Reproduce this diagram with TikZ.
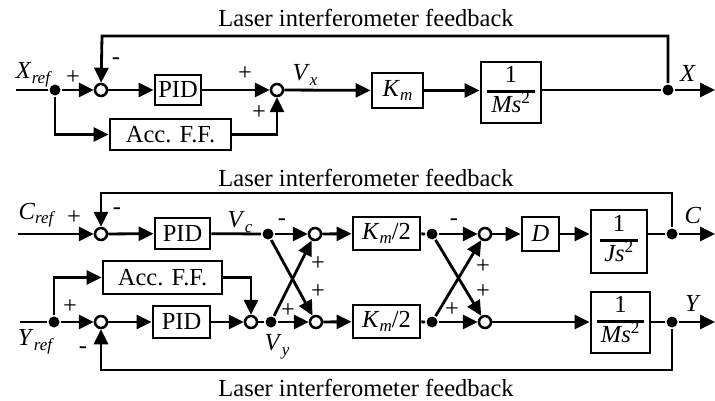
\documentclass[tikz,border=0pt]{standalone}
\usepackage{fontspec}
\setmainfont{Liberation Serif}
\usetikzlibrary{arrows.meta,calc}
\newcommand{\sbs}[1]{\raisebox{-0.4ex}{\fontsize{17}{17}\selectfont\itshape #1}}
\newcommand{\frc}[2]{{\setlength{\arrayrulewidth}{2.2pt}\begin{tabular}{@{\,}c@{\,}}#1\\\hline #2\end{tabular}}}
\tikzset{
  every node/.style={font=\fontsize{24.5}{26}\selectfont},
  blk/.style={draw, line width=2.9pt, fill=white, inner sep=2pt},
  sumc/.style={circle, draw, line width=2.5pt, fill=white, minimum size=12pt, inner sep=0pt},
  dotn/.style={circle, fill=black, minimum size=11pt, inner sep=0pt},
  arr/.style={-{Triangle[length=15pt,width=14pt]}},
  lbl/.style={inner sep=0pt},
}
\begin{document}
\begin{tikzpicture}[x=1pt,y=-1pt,line width=2.8pt]
\useasboundingbox (0,0) rectangle (715,401);
% ---------- top diagram ----------
\coordinate (xin) at (16,90);
\coordinate (xout) at (715,90);
\coordinate (fbA) at (102,36);
\node[dotn] (dotA) at (55,90) {};
\node[sumc] (s1) at (101,90) {};
\node[blk, minimum width=46pt, minimum height=30pt] (pid1) at (178,90) {PID};
\node[sumc] (s2) at (277,90) {};
\node[blk, minimum width=121pt, minimum height=31pt] (acc1) at (170.5,134.5) {Acc. F.F.};
\node[blk, minimum width=51pt, minimum height=35pt] (km1) at (397.5,90.5) {\textit{K}\sbs{m}};
\node[blk, minimum width=60pt, minimum height=61pt, inner sep=0pt] (ms1) at (511,92.5) {\frc{1}{\textit{Ms}\textsuperscript{2}}};
\node[dotn] (dotX) at (668,90) {};

\draw (xin) -- (dotA);
\draw[arr] (dotA) -- (s1);
\draw[arr] (s1) -- (pid1);
\draw[arr] (pid1) -- (s2);
\draw[arr] (s2) -- (km1);
\draw[arr] (km1) -- (km1 -| ms1.west);
\draw (ms1.east |- dotX) -- (dotX);
\draw[arr] (dotX) -- (xout);
\draw[arr] (dotX) |- (fbA) -- (s1);
\draw[arr] (dotA) |- (acc1.west);
\draw[arr] (acc1.east) -| (s2.south);

\node[lbl] (t1) at (366,18) {Laser interferometer feedback};
\node[lbl] (lxr) at (33,75) {\textit{X}\sbs{ref}};
\node[lbl] (p1) at (73,78) {+};
\node[lbl] (m1) at (116,61) {-};
\node[lbl] (p2) at (245,74) {+};
\node[lbl] (p3) at (259,113) {+};
\node[lbl] (lvx) at (305,75) {\textit{V}\sbs{x}};
\node[lbl] (lx) at (688,73) {\textit{X}};

% ---------- bottom diagram ----------
\coordinate (cin) at (18,234);
\coordinate (cout) at (715,234);
\coordinate (yin) at (20,322);
\coordinate (yout) at (715,322);
\coordinate (fbC) at (101,193);
\coordinate (fbY) at (101,370);

\node[sumc] (s3) at (101,234) {};
\node[blk, minimum width=55pt, minimum height=31pt] (pid2) at (182.5,233.5) {PID};
\node[dotn] (dotC) at (268,234) {};
\node[sumc] (s4) at (315,234) {};
\node[blk, minimum width=67pt, minimum height=33pt] (km2) at (386.5,233.5) {\textit{K}\sbs{m}/2};
\node[dotn] (dotC2) at (432,234) {};
\node[sumc] (s5) at (485,234) {};
\node[blk, minimum width=37pt, minimum height=34pt] (dbox) at (540.5,234) {\textit{D}};
\node[blk, minimum width=56pt, minimum height=63pt, inner sep=0pt] (js) at (619,241.5) {\frc{1}{\textit{Js}\textsuperscript{2}}};
\node[dotn] (dotCo) at (672,234) {};

\node[dotn] (dotY0) at (54,322) {};
\node[sumc] (s6) at (101,322) {};
\node[blk, minimum width=119pt, minimum height=33pt] (acc2) at (162.5,277.5) {Acc. F.F.};
\node[blk, minimum width=57pt, minimum height=32pt] (pid3) at (181.5,322) {PID};
\node[sumc] (s7) at (251,322) {};
\node[dotn] (dotY) at (271,322) {};
\node[sumc] (s8) at (316,322) {};
\node[blk, minimum width=67pt, minimum height=33pt] (km3) at (386.5,321.5) {\textit{K}\sbs{m}/2};
\node[dotn] (dotY2) at (432,322) {};
\node[sumc] (s9) at (485,322) {};
\node[blk, minimum width=59pt, minimum height=61pt, inner sep=0pt] (ms2) at (620.5,322.5) {\frc{1}{\textit{Ms}\textsuperscript{2}}};
\node[dotn] (dotYo) at (672,322) {};

% C row
\draw[arr] (cin) -- (s3);
\draw[arr] (s3) -- (pid2);
\draw (pid2) -- (dotC);
\draw[arr] (dotC) -- (s4);
\draw[arr] (s4) -- (km2);
\draw (km2) -- (dotC2);
\draw[arr] (dotC2) -- (s5);
\draw[arr] (s5) -- (dbox);
\draw[arr] (dbox) -- (dbox -| js.west);
\draw (js.east |- dotCo) -- (dotCo);
\draw[arr] (dotCo) -- (cout);
\draw[arr] (dotCo) |- (fbC) -- (s3);
% Y row
\draw (yin) -- (dotY0);
\draw[arr] (dotY0) -- (s6);
\draw[arr] (s6) -- (pid3);
\draw[arr] (pid3) -- (s7);
\draw (s7) -- (dotY);
\draw[arr] (dotY) -- (s8);
\draw[arr] (s8) -- (km3);
\draw (km3) -- (dotY2);
\draw[arr] (dotY2) -- (s9);
\draw[arr] (s9) -- (s9 -| ms2.west);
\draw (ms2.east |- dotYo) -- (dotYo);
\draw[arr] (dotYo) -- (yout);
\draw[arr] (dotYo) |- (fbY) -- (s6);
\draw[arr] (dotY0) |- (acc2.west);
\draw[arr] (acc2.east) -| (s7.north);
% crosses
\draw[arr] (dotC) -- (s8);
\draw[arr] (dotY) -- (s4);
\draw[arr] (dotC2) -- (s9);
\draw[arr] (dotY2) -- (s5);

% labels
\node[lbl] (t2) at (366,178) {Laser interferometer feedback};
\node[lbl] (t3) at (366,388) {Laser interferometer feedback};
\node[lbl] (lcr) at (36,215) {\textit{C}\sbs{ref}};
\node[lbl] (p4) at (74,218) {+};
\node[lbl] (m2) at (117,211) {-};
\node[lbl] (lvc) at (240,222) {\textit{V}\sbs{c}};
\node[lbl] (m3) at (282,222) {-};
\node[lbl] (m4) at (454,222) {-};
\node[lbl] (lc) at (693,216) {\textit{C}};
\node[lbl] (lyr) at (35,342) {\textit{Y}\sbs{ref}};
\node[lbl] (p5) at (70,307) {+};
\node[lbl] (m5) at (83,350) {-};
\node[lbl] (lvy) at (277,347) {\textit{V}\sbs{y}};
\node[lbl] (p6) at (288,311) {+};
\node[lbl] (p7) at (318,264) {+};
\node[lbl] (p8) at (318,292) {+};
\node[lbl] (p9) at (452,310) {+};
\node[lbl] (p10) at (483,267) {+};
\node[lbl] (p11) at (483,292) {+};
\node[lbl] (ly) at (693,303) {\textit{Y}};
\end{tikzpicture}
\end{document}
